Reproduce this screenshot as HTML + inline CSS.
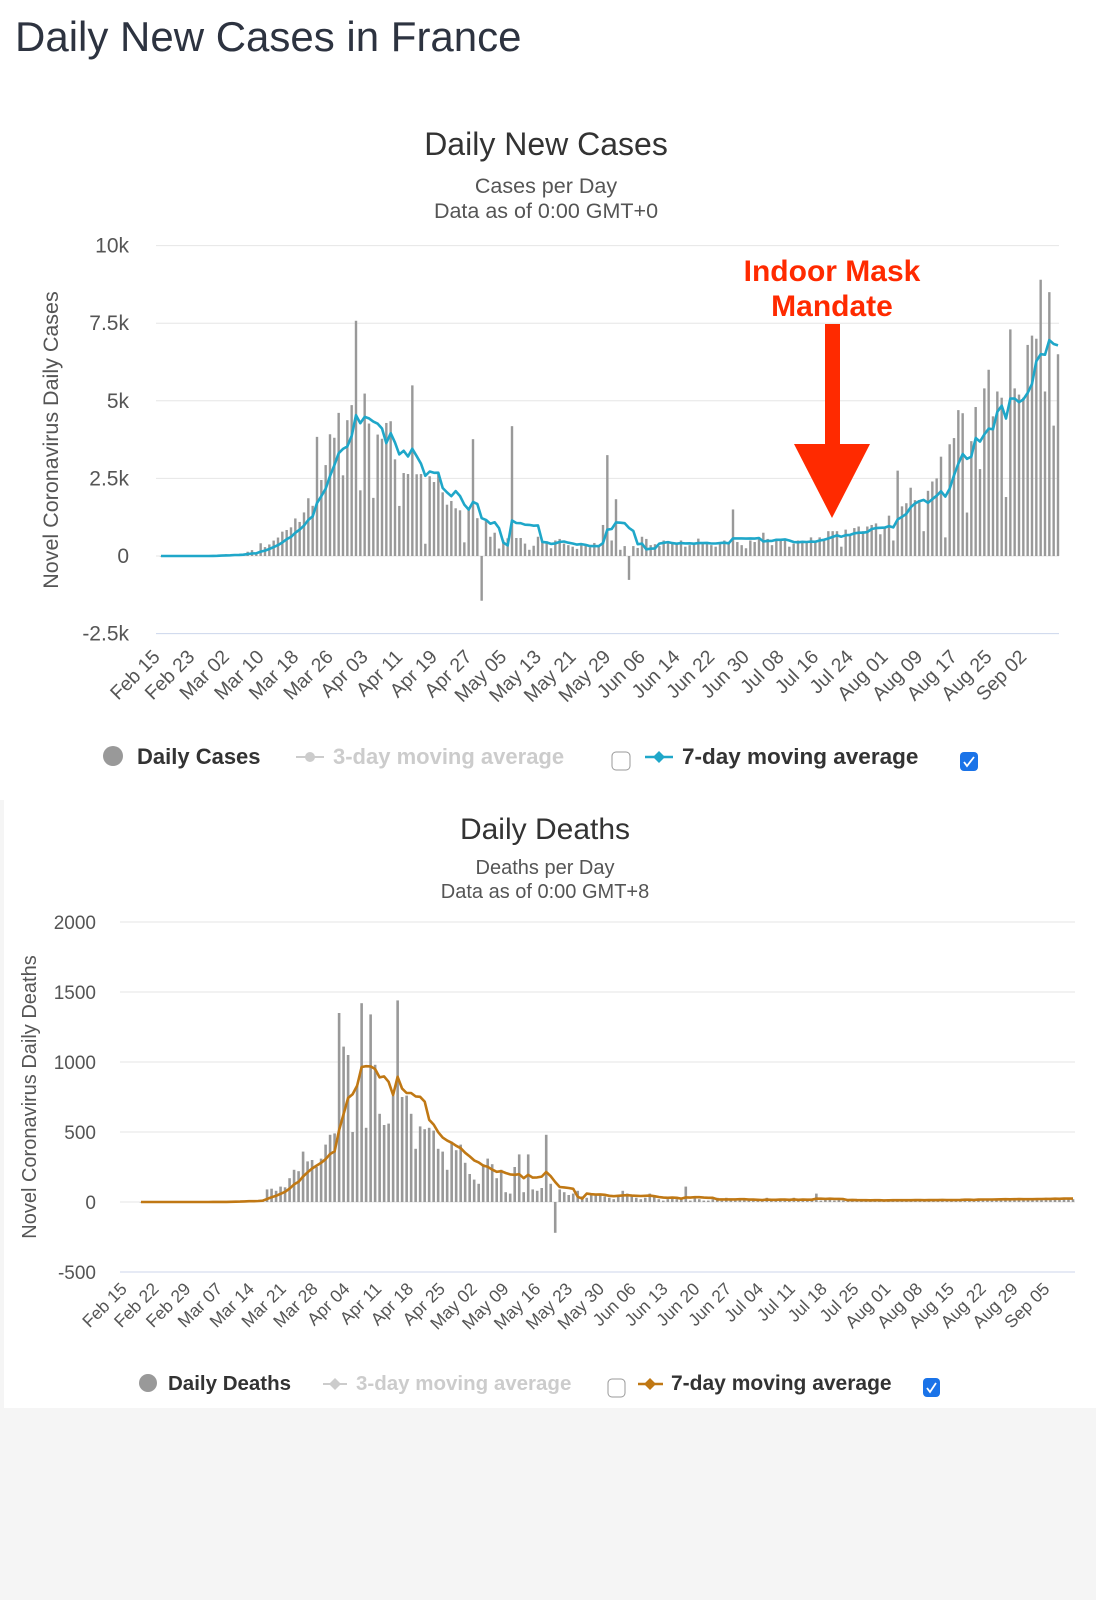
<!DOCTYPE html>
<html><head><meta charset="utf-8"><style>
html,body{margin:0;padding:0;background:#f5f5f5;}
svg{display:block;font-family:"Liberation Sans",sans-serif;}
</style></head><body>
<svg id="root" width="1096" height="1600" viewBox="0 0 1096 1600" xmlns="http://www.w3.org/2000/svg">
<rect x="0" y="0" width="1096" height="800" fill="#fff"/>
<rect x="4" y="800" width="1092" height="608" fill="#fff"/>
<text x="15" y="51" font-size="42" fill="#2d3340">Daily New Cases in France</text>

<text x="546" y="155" font-size="32" fill="#333" text-anchor="middle">Daily New Cases</text>
<text x="546" y="193" font-size="21.5" fill="#555" text-anchor="middle">Cases per Day</text>
<text x="546" y="218" font-size="21.5" fill="#555" text-anchor="middle">Data as of 0:00 GMT+0</text>
<text transform="translate(58,440) rotate(-90)" font-size="21.5" fill="#555" text-anchor="middle">Novel Coronavirus Daily Cases</text>
<g id="casesG"></g>

<g>
<text x="832" y="281" font-size="30" font-weight="bold" fill="#ff2a00" text-anchor="middle">Indoor Mask</text>
<text x="832" y="316" font-size="30" font-weight="bold" fill="#ff2a00" text-anchor="middle">Mandate</text>
<rect x="825" y="324" width="15" height="122" fill="#ff2a00"/>
<polygon points="794,444 870,444 832,518" fill="#ff2a00"/>
</g>

<g>
<circle cx="113" cy="756" r="10" fill="#999"/>
<text x="137" y="764" font-size="22" font-weight="bold" fill="#333">Daily Cases</text>
<line x1="296" y1="757" x2="324" y2="757" stroke="#ccc" stroke-width="2"/>
<circle cx="310" cy="757" r="5" fill="#ccc"/>
<text x="333" y="764" font-size="22" font-weight="bold" fill="#ccc">3-day moving average</text>
<rect x="612" y="752" width="18" height="18" rx="4" fill="#fff" stroke="#999"/>
<line x1="645" y1="757" x2="673" y2="757" stroke="#1fa7c9" stroke-width="2.5"/>
<polygon points="659,751 665,757 659,763 653,757" fill="#1fa7c9"/>
<text x="682" y="764" font-size="22.5" font-weight="bold" fill="#333">7-day moving average</text>
<rect x="960" y="752" width="18" height="19" rx="4" fill="#1a73e8"/>
<path d="M964,762 l3,4 l7,-9" stroke="#fff" stroke-width="1.8" fill="none"/>
</g>

<text x="545" y="839" font-size="30" fill="#333" text-anchor="middle">Daily Deaths</text>
<text x="545" y="874" font-size="20" fill="#555" text-anchor="middle">Deaths per Day</text>
<text x="545" y="898" font-size="20" fill="#555" text-anchor="middle">Data as of 0:00 GMT+8</text>
<text transform="translate(36,1097) rotate(-90)" font-size="20" fill="#555" text-anchor="middle">Novel Coronavirus Daily Deaths</text>
<g id="deathsG"></g>

<g>
<circle cx="148" cy="1383" r="9" fill="#999"/>
<text x="168" y="1390" font-size="20.5" font-weight="bold" fill="#333">Daily Deaths</text>
<line x1="323" y1="1384" x2="347" y2="1384" stroke="#ccc" stroke-width="2"/>
<polygon points="335,1378 341,1384 335,1390 329,1384" fill="#ccc"/>
<text x="356" y="1390" font-size="20.5" font-weight="bold" fill="#ccc">3-day moving average</text>
<rect x="608" y="1379" width="17" height="18" rx="4" fill="#fff" stroke="#999"/>
<line x1="638" y1="1384" x2="663" y2="1384" stroke="#c07814" stroke-width="2.5"/>
<polygon points="650,1378 656,1384 650,1390 644,1384" fill="#c07814"/>
<text x="671" y="1390" font-size="21" font-weight="bold" fill="#333">7-day moving average</text>
<rect x="923" y="1378" width="17" height="19" rx="4" fill="#1a73e8"/>
<path d="M927,1388 l3,4 l6,-9" stroke="#fff" stroke-width="1.8" fill="none"/>
</g>
</svg>
<script>
const casesValues = [0,0,0,0,0,0,0,0,0,0,
2,4,20,18,38,57,30,61,21,73,
138,190,103,410,286,372,497,595,785,838,
924,1210,1097,1404,1861,1617,3838,2448,2929,3922,
3809,4611,2599,4376,4861,7578,2116,5233,4267,1873,
3912,3777,4286,4342,3114,1613,2673,2641,5497,2633,
2641,395,2569,2383,2660,2051,1653,1773,1537,1472,
440,1537,3764,1219,-1441,1150,620,750,240,500,
570,4183,580,580,400,200,330,620,470,470,
250,500,550,400,350,300,230,350,330,280,
420,300,1000,3250,500,1830,200,320,-770,320,
260,620,550,350,380,320,500,420,400,400,
500,300,350,400,560,400,450,350,300,450,
500,420,1500,450,350,250,500,450,550,750,
550,350,500,500,550,300,400,500,450,450,
600,500,600,550,800,800,800,300,850,650,
900,950,800,950,1000,1050,700,950,1300,500,
2750,1600,1700,2200,1800,1800,800,2100,2400,2500,
3200,600,3600,3800,4700,4600,1400,3700,4800,2800,
5400,6000,4500,5300,5100,1900,7300,5400,5200,5100,
6800,7100,7000,8900,5300,8500,4200,6500];
const casesTicks = [-2500,0,2500,5000,7500,10000];
const casesTickLabels = ["-2.5k","0","2.5k","5k","7.5k","10k"];
const casesDateLabels = ["Feb 15","Feb 23","Mar 02","Mar 10","Mar 18","Mar 26","Apr 03","Apr 11","Apr 19","Apr 27","May 05","May 13","May 21","May 29","Jun 06","Jun 14","Jun 22","Jun 30","Jul 08","Jul 16","Jul 24","Aug 01","Aug 09","Aug 17","Aug 25","Sep 02"];

const deathsValues = [0,0,0,0,0,0,0,0,0,0, 0,1,0,0,1,0,1,0,2,3, 4,7,3,9,11,5,13,18,
90,95,80,110,105,170,230,220,360,290,300,250,310,410,480,490,1350,
1110,1050,500,830,1420,530,1340,980,630,550,560,760,1440,
750,760,630,380,540,520,530,510,380,360,230,430,370,410,280,200,160,130,270,310,270,170,230,70,60,250,340,70,340,90,80,
100,480,
130,-220,90,70,50,60,80,40,30,60,
50,60,40,30,20,50,80,60,40,30,
20,30,60,50,20,10,20,30,20,20,
110,10,30,20,10,10,20,30,10,30,
20,10,20,20,10,10,20,10,30,10,
20,20,10,10,30,10,20,14,20,60,
10,20,20,10,15,10,10,20,10,15,
10,10,15,10,10,15,20,10,10,15,
10,15,20,10,15,12,15,20,10,15,
15,20,20,15,10,25,20,15,20,25,
20,15,20,25,20,15,25,20,20,25,
30,20,25,20,30,25,20];
const deathsTicks = [-500,0,500,1000,1500,2000];
const deathsTickLabels = ["-500","0","500","1000","1500","2000"];
const deathsDateLabels = ["Feb 15","Feb 22","Feb 29","Mar 07","Mar 14","Mar 21","Mar 28","Apr 04","Apr 11","Apr 18","Apr 25","May 02","May 09","May 16","May 23","May 30","Jun 06","Jun 13","Jun 20","Jun 27","Jul 04","Jul 11","Jul 18","Jul 25","Aug 01","Aug 08","Aug 15","Aug 22","Aug 29","Sep 05"];

const NS = "http://www.w3.org/2000/svg";
function mk(tag, attrs, parent){const e=document.createElementNS(NS,tag);for(const k in attrs)e.setAttribute(k,attrs[k]);parent.appendChild(e);return e;}
function movingAvg(v){return v.map((_,i)=>{let s=0,c=0;for(let j=Math.max(0,i-6);j<=i;j++){s+=v[j];c++;}return s/c;});}

function drawChart(cfg){
  const g=document.getElementById(cfg.gid);
  const n=cfg.values.length;
  const xS=i=>cfg.x0+i*(cfg.x1-cfg.x0)/(n-1);
  const yS=v=>cfg.yZero-v*cfg.pxPer;
  cfg.ticks.forEach((t,k)=>{
    const gl=mk('line',{x1:cfg.gx0,x2:cfg.gx1,y1:yS(t),y2:yS(t),stroke:k===0?'#ccd6eb':'#e6e6e6','stroke-width':1},g);
    
    
    const tl=mk('text',{x:cfg.labX,y:yS(t)+7,'font-size':cfg.yFont,fill:'#555','text-anchor':'end'},g);
    tl.textContent=cfg.tickLabels[k];
    
    
  });
  cfg.dates.forEach((d,k)=>{
    const x=xS(k*cfg.step)+cfg.labOff+k*cfg.labSpread;
    const t=mk('text',{transform:`translate(${x},${cfg.dateY}) rotate(-45)`,'font-size':cfg.xFont,fill:'#555','text-anchor':'end'},g);
    t.textContent=d;
    
    
  });
  cfg.values.forEach((v,i)=>{
    const y0=yS(0),y1=yS(v);
    const b=mk('rect',{x:xS(i)-cfg.bw/2,y:Math.min(y0,y1),width:cfg.bw,height:Math.max(0.5,Math.abs(y1-y0)),fill:'#999'},g);
    
    
  });
  const avg=movingAvg(cfg.values);
  const p=mk('path',{d:avg.map((v,i)=>(i?'L':'M')+xS(i).toFixed(1)+','+yS(v).toFixed(1)).join(''),fill:'none',stroke:cfg.lineColor,'stroke-width':2.6,'stroke-linejoin':'round'},g);
  
  
}
drawChart({gid:'casesG',values:casesValues,ticks:casesTicks,tickLabels:casesTickLabels,dates:casesDateLabels,step:8,labOff:0,labSpread:0,
  x0:161,x1:1058,gx0:156,gx1:1059,yZero:556,pxPer:77.6/2500,labX:129,yFont:21,xFont:19.5,dateY:658,bw:2.4,lineColor:'#1fa7c9'});
drawChart({gid:'deathsG',values:deathsValues,ticks:deathsTicks,tickLabels:deathsTickLabels,dates:deathsDateLabels,step:7,labOff:-13,labSpread:0.3,
  x0:141,x1:1073,gx0:120,gx1:1075,yZero:1202,pxPer:70/500,labX:96,yFont:19,xFont:17.5,dateY:1290,bw:2.6,lineColor:'#c07814'});
</script>
</body></html>
